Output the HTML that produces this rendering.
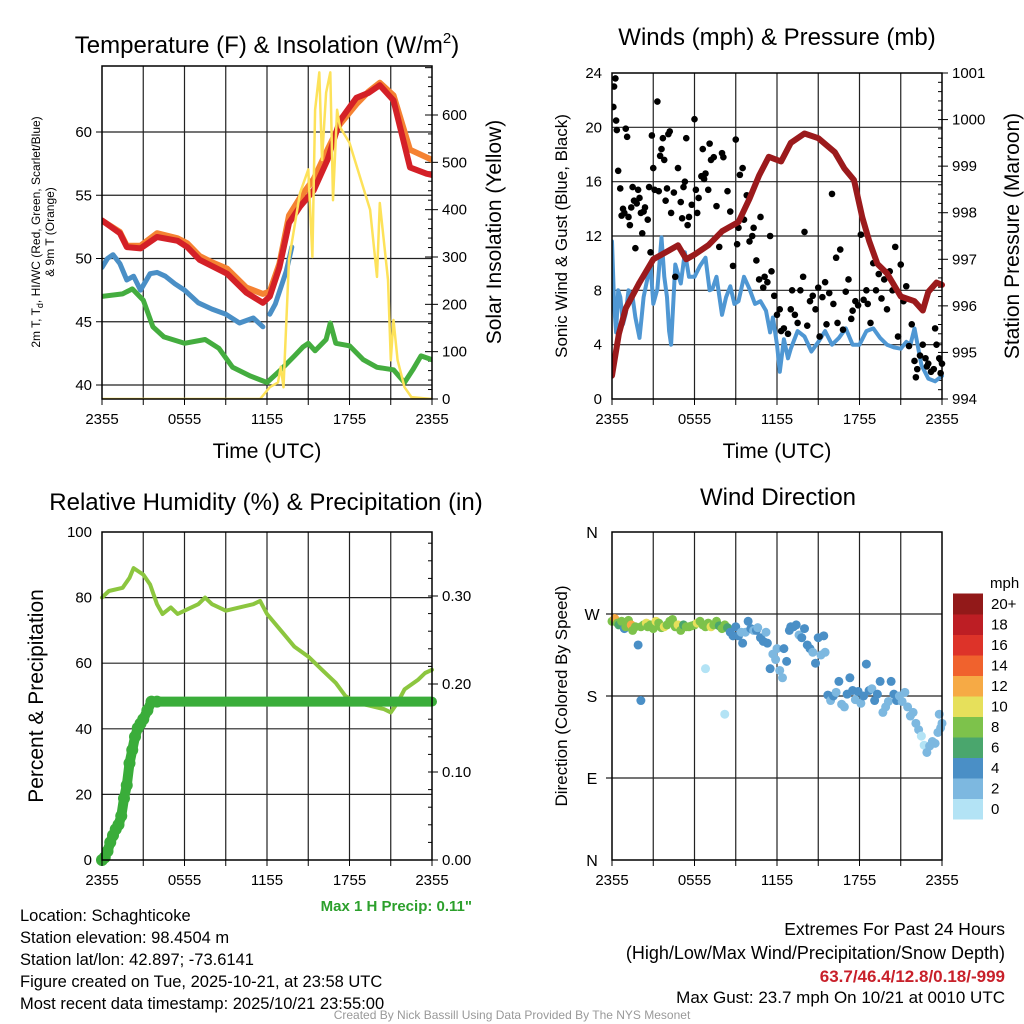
<!DOCTYPE html>
<html><head><meta charset="utf-8"><style>
body{margin:0;background:#fff;}
svg{display:block;font-family:"Liberation Sans",sans-serif;}
</style></head><body>
<svg id="s" width="1024" height="1024" viewBox="0 0 1024 1024">
<rect width="1024" height="1024" fill="#fff"/>
</svg>
<script>
// ---------- DATA (hours since 2355 UTC) ----------
const xTickLabels=["2355","0555","1155","1755","2355"];
const tempH=[0,1.3,1.8,2.8,4,5.5,6.2,7.1,8,9.1,10.5,11.7,12.2,12.9,13.6,14.4,15.4,16.4,17.3,18.5,19.4,20.2,21.2,22.4,23.6,24];
const tempRed=[53.0,52.0,50.9,50.8,51.7,51.4,50.9,49.9,49.4,48.8,47.3,46.5,47.0,49.3,52.8,54.1,55.4,57.8,60.9,62.7,63.1,63.7,62.5,57.2,56.7,56.6];
const tempOrange=[53.0,52.1,51.0,51.0,52.0,51.6,51.2,50.2,49.7,49.2,47.7,47.2,47.4,49.6,53.4,54.8,56.3,58.6,60.6,62.2,63.2,63.9,62.9,58.6,58.0,57.8];
const wcH=[0,0.4,0.8,1.3,1.8,2.3,2.8,3.5,4.0,4.6,5.3,6,7,8,9,10,11,11.7];
const wcBlue=[49.3,50.0,50.3,49.6,48.3,48.6,47.5,48.8,48.9,48.6,48.0,47.5,46.5,46.0,45.6,44.9,45.3,44.6];
const wc2H=[12.2,12.6,13.0,13.4,13.8];
const wc2Blue=[45.6,46.4,47.7,49.0,50.9];
const dewH=[0,1.5,2.2,3,3.7,4.5,6,7.5,8.5,9.5,10.8,12,13,14,14.6,15,15.5,16.3,16.6,17,18,19,20,21.2,22,22.6,23.2,24];
const dewGreen=[47.0,47.2,47.6,46.7,44.6,43.8,43.3,43.6,42.9,41.4,40.7,40.2,41.2,42.3,43.0,43.3,42.7,43.6,44.9,43.3,43.1,42.0,41.4,41.2,40.2,41.2,42.3,42.0];
const solH=[0,11.5,12.2,12.8,13.0,13.2,13.6,14.4,15,15.3,15.5,15.8,16,16.3,16.6,16.8,17.1,17.3,18,19.5,20,20.2,20.8,21,21.2,21.5,22,22.5,24];
const solar=[0,0,25,35,68,25,294,435,485,300,611,690,505,647,690,420,611,575,541,400,258,414,252,82,167,82,25,4,0];
const presH=[0,0.5,1,2,3,4.2,4.8,5.4,6,7,8,9.2,10,10.7,11.4,12.3,13,14,15,16.2,16.9,17.6,18.2,18.7,19.3,20,21,22,22.6,23,23.6,24];
const pressure=[994.5,995.4,995.95,996.5,997.0,997.2,997.3,997.0,997.1,997.3,997.6,997.8,998.3,998.8,999.2,999.1,999.5,999.7,999.6,999.3,998.95,998.7,997.9,997.4,996.9,996.7,996.2,996.1,995.9,996.3,996.5,996.45];
const sonicH=[0,0.15,0.3,0.45,0.6,0.8,1,1.2,1.5,1.7,2,2.15,2.3,2.5,2.8,3,3.3,3.6,3.8,4,4.15,4.3,4.6,5,5.3,5.6,6,6.4,6.8,7.1,7.3,7.6,8,8.3,8.6,8.9,9.2,9.6,10,10.4,10.8,11.2,11.5,11.7,12.0,12.2,12.5,12.8,13,13.5,14,14.5,15,15.5,16,16.5,17,17.5,18,18.5,19,19.5,20,20.5,21,21.4,21.7,22,22.5,23,23.5,24];
const sonic=[11.6,7,4.9,8,7.5,5.5,6.3,8,7.5,6,4.5,6,7.5,8.5,9.9,7,8.1,11.9,9,7.5,5,4.0,9.9,8.5,10.8,9,9.0,9.8,10.4,8,8.1,9,6.2,7.5,8.3,7,7.2,9,8.1,7,7.2,6.5,4.9,6,4.0,2.0,4.4,3,3.7,5,4.6,3.5,4.2,5,4.0,4.5,5.2,4,4.0,5,5.2,4.5,4.0,3.8,3.7,4.2,4.0,5.2,2.5,1.5,1.3,1.7,2,1.0];
const gustH=[0.1,0.15,0.25,0.3,0.35,0.45,0.6,0.7,0.8,0.9,1.0,1.1,1.2,1.3,1.4,1.5,1.6,1.7,1.8,1.9,2.0,2.1,2.2,2.3,2.4,2.6,2.7,2.8,2.9,3.0,3.1,3.3,3.4,3.5,3.6,3.7,3.8,3.9,4.0,4.1,4.2,4.3,4.5,4.6,4.8,5.0,5.1,5.2,5.3,5.4,5.5,5.6,5.8,6.0,6.1,6.2,6.3,6.5,6.6,6.7,6.8,7.0,7.1,7.2,7.4,7.6,7.8,8.0,8.1,8.4,8.6,8.8,9.0,9.1,9.2,9.3,9.5,9.6,9.8,10.0,10.2,10.3,10.5,10.7,10.8,11.0,11.1,11.3,11.5,11.6,11.8,12.0,12.2,12.3,12.5,12.8,13.0,13.1,13.3,13.5,13.7,13.9,14.0,14.2,14.4,14.6,14.8,15.0,15.1,15.3,15.5,15.6,15.8,16.0,16.1,16.3,16.4,16.6,16.8,17.0,17.2,17.4,17.5,17.7,17.9,18.1,18.3,18.5,18.6,18.8,19.0,19.2,19.4,19.6,19.8,20.0,20.2,20.4,20.6,20.8,21.0,21.2,21.4,21.6,21.8,22.0,22.2,22.4,22.6,22.8,23.0,23.2,23.4,23.5,23.6,23.8,24.0,23.9,22.9,22.1];
const gust=[21.5,23,23.6,20.5,19.8,16.8,15.5,13.5,14,13.7,19.9,19.3,13.4,12.8,14.1,15.6,14.6,11.1,14.4,15.4,14.8,13.7,12.2,13.8,14.1,13.2,15.6,10.8,19.4,17.0,15.4,21.9,15.3,17.9,18.4,19.2,17.6,14.6,15.5,19.5,19.7,13.7,15.2,9.0,17.0,14.5,13.3,15.6,16.0,19.2,12.8,13.4,14.3,20.6,15.4,13.7,14.8,16.4,18.4,16.2,16.6,15.4,18.8,17.6,17.8,14.2,11.2,18.1,17.8,15.3,13.8,9.8,19.1,11.4,12.6,16.5,17.0,13.2,15.0,11.6,12.0,12.6,10.2,8.8,13.4,8.2,9.0,8.6,12.0,9.4,7.6,6.2,6.6,5.0,5.2,4.8,6.6,8.0,6.2,5.6,8.0,9.0,12.3,5.4,7.2,7.6,6.6,8.2,4.6,7.5,8.6,5.5,7.8,15.1,7.0,10.4,5.6,11.0,5.1,7.9,8.8,5.9,6.5,7.2,6.9,12.1,7.3,8.0,7.0,5.6,10.0,8.0,9.2,7.4,8.8,6.6,9.4,8.0,11.2,4.6,9.9,7.2,8.3,3.9,5.5,2.8,2.2,3.2,4.0,3.0,2.6,2.0,2.2,5.2,4.0,3.0,2.6,1.9,2.4,1.6];
const rhH=[0,0.5,1.5,2,2.3,3,3.5,4,4.4,5,5.5,6,7,7.5,8,9,10,11,11.5,12,13,14,15,16,17,17.7,18.5,19.5,20.5,21,21.5,22,23,23.5,24];
const rh=[80,82,83,86,89,87,84,78,75,77,75,76,78,80,78,76,77,78,79,75,70,65,62,58,54,50,48,47,46,45,48,52,55,57,58];
const pcpH=[0,0.2,0.4,0.6,0.8,1,1.2,1.4,1.6,1.8,2,2.2,2.4,2.6,2.8,3,3.3,3.6,4,24];
const precip=[0,0.003,0.01,0.02,0.028,0.035,0.04,0.05,0.07,0.085,0.11,0.125,0.14,0.15,0.155,0.16,0.17,0.18,0.18,0.18];
const dirH=[0,0.2,0.4,0.5,0.7,0.9,1.0,1.2,1.4,1.5,1.7,1.9,2.1,2.3,2.5,2.6,2.8,3.0,3.2,3.4,3.6,3.8,4.0,4.2,4.4,4.6,4.8,5.0,5.2,5.4,5.6,5.8,6.0,6.2,6.4,6.6,6.8,7.0,7.2,7.4,7.6,7.8,8.0,8.2,8.4,8.6,8.8,9.0,9.2,9.4,9.5,9.7,9.9,10.1,10.3,10.5,10.6,10.8,11.0,11.2,11.3,11.5,11.7,11.9,12.0,12.2,12.4,12.5,12.7,12.9,13.0,13.2,13.4,13.6,13.8,14.0,14.2,14.4,14.6,14.8,15.0,15.2,15.4,15.5,15.7,15.9,16.1,16.3,16.5,16.7,16.9,17.1,17.3,17.5,17.7,17.9,18.1,18.3,18.5,18.7,18.9,19.1,19.3,19.5,19.7,19.9,20.1,20.3,20.5,20.7,20.9,21.1,21.3,21.5,21.7,21.9,22.1,22.3,22.5,22.7,22.9,23.1,23.3,23.5,23.7,23.9,24.0,23.8,2.1,6.8,8.2];
const dirDeg=[262,265,260,258,262,254,256,263,258,252,256,236,256,258,260,256,258,254,262,260,255,256,258,262,264,256,258,252,258,256,256,257,258,260,262,258,256,260,256,258,262,257,254,258,255,250,246,256,246,250,238,250,262,254,252,252,255,244,240,250,238,210,226,220,232,208,200,232,218,252,256,256,258,247,244,254,236,232,228,216,244,225,246,228,181,175,180,184,196,171,168,182,200,186,176,185,172,180,215,186,188,175,182,196,162,168,174,196,182,175,180,174,184,168,158,162,150,143,136,126,118,125,130,128,140,145,150,160,175,210,160,258,240,250];
const dirSpd=[9,13,9,7,8,4,8,9,13,9,8,4,9,8,10,9,8,8,10,9,9,11,9,8,9,9,10,8,6,8,9,9,8,10,9,8,9,9,11,8,9,7,8,9,7,5,5,5,5,3,5,3,5,5,2,5,2,5,5,3,5,5,3,3,2,2,2,5,5,5,5,5,5,2,5,5,5,5,3,5,5,2,5,2,5,2,5,3,5,2,2,5,5,5,3,5,2,5,5,5,3,5,5,5,3,3,2,5,5,5,2,3,3,2,2,2,3,2,1,1,2,3,3,2,2,3,2,3,5,1,1,7,9,3];
const barLevels=["0","2","4","6","8","10","12","14","16","18","20+"];
const barColors=["#b3e3f5","#7db8e0","#4a8fc6","#4aa66d","#7dc24b","#e6e05b","#f6aa45","#f0622d","#dd3329","#bd1e24","#921919"];

// ---------- helpers ----------
const NS="http://www.w3.org/2000/svg";
const svg=document.getElementById('s');
function mk(tag,attrs,parent){const e=document.createElementNS(NS,tag);for(const k in attrs)e.setAttribute(k,attrs[k]);(parent||svg).appendChild(e);return e;}
function txt(x,y,s,size,anchor,parent,extra){const t=mk('text',Object.assign({x:x,y:y,'font-size':size,'text-anchor':anchor||'middle',fill:'#000'},extra||{}),parent);t.textContent=s;return t;}
function lin(d0,d1,p0,p1){return v=>p0+(v-d0)/(d1-d0)*(p1-p0);}
function poly(xs,ys,sx,sy,color,w,parent){const pts=xs.map((h,i)=>sx(h).toFixed(1)+','+sy(ys[i]).toFixed(1)).join(' ');return mk('polyline',{points:pts,fill:'none',stroke:color,'stroke-width':w,'stroke-linejoin':'round','stroke-linecap':'round'},parent);}
function frame(name){
  const g=mk('g',{});
  
  
  return g;
}
function vgrid(g,x0,y0,x1,y1){
  for(let i=1;i<8;i++){const x=x0+(x1-x0)*i/8;mk('line',{x1:x,y1:y0,x2:x,y2:y1,stroke:'#222','stroke-width':1.2},g);}
}
function xaxis(g,x0,x1,yb){
  const sx=lin(0,24,x0,x1);
  for(let i=0;i<=8;i++){const x=x0+(x1-x0)*i/8;mk('line',{x1:x,y1:yb,x2:x,y2:yb+6,stroke:'#000','stroke-width':1},g);}
  xTickLabels.forEach((l,i)=>{const t=txt(sx(i*6),yb+25,l,15,'middle',g);});
  return sx;
}
function box(g,x0,y0,x1,y1){mk('rect',{x:x0,y:y0,width:x1-x0,height:y1-y0,fill:'none',stroke:'#000','stroke-width':1.5},g);}

// ---------- Panel 1 ----------
(function(){
  const x0=102,x1=432,y0=66,y1=399;
  const g=frame('temperature-panel');
  const sx=lin(0,24,x0,x1), sy=lin(40,60,385,132), ss=lin(0,600,399,115);
  vgrid(g,x0,y0,x1,y1);
  [40,45,50,55,60].forEach(v=>mk('line',{x1:x0,y1:sy(v),x2:x1,y2:sy(v),stroke:'#222','stroke-width':1.2},g));
  [40,45,50,55,60].forEach(v=>{mk('line',{x1:x0-6,y1:sy(v),x2:x0,y2:sy(v),stroke:'#000'},g);const t=txt(x0-10,sy(v)+5,String(v),15,'end',g);});
  for(let v=0;v<=700;v+=20){const y=ss(v);if(y<y0)break;mk('line',{x1:x1-(v%100==0?7:4),y1:y,x2:x1,y2:y,stroke:'#000'},g);}
  for(let v=0;v<=600;v+=100){mk('line',{x1:x1,y1:ss(v),x2:x1+6,y2:ss(v),stroke:'#000'},g);const t=txt(x1+10,ss(v)+5,String(v),15,'start',g);}
  const cp=mk('clipPath',{id:'c1'});mk('rect',{x:x0,y:y0,width:x1-x0,height:y1-y0},cp);
  const sc=mk('g',{'clip-path':'url(#c1)'},g);
  const gl=poly(dewH,dewGreen,sx,sy,'#44ad3f',5,sc);
  const b1=poly(wcH,wcBlue,sx,sy,'#4a8fc6',5,sc);
  const b2=poly(wc2H,wc2Blue,sx,sy,'#4a8fc6',5,sc);
  const o=poly(tempH,tempOrange,sx,sy,'#f58232',6,sc);
  const r=poly(tempH,tempRed,sx,sy,'#d42027',6,sc);
  const y=poly(solH,solar,sx,ss,'#fde25a',2.5,sc);
  box(g,x0,y0,x1,y1);
  xaxis(g,x0,x1,y1);
  const t1=txt(267,53,'',24,'middle',g);
  t1.innerHTML='Temperature (F) &amp; Insolation (W/m<tspan font-size="15" dy="-10">2</tspan><tspan dy="10">)</tspan>';
  
  const xl=txt(267,458,'Time (UTC)',21,'middle',g);
  const yl1=txt(0,0,'',12,'middle',g,{transform:'translate(40,232) rotate(-90)'});
  yl1.innerHTML='2m T, T<tspan font-size="9" dy="3">d</tspan><tspan dy="-3">, HI/WC (Red, Green, Scarlet/Blue)</tspan>';
  
  const yl2=txt(0,0,'& 9m T (Orange)',12,'middle',g,{transform:'translate(54,232) rotate(-90)'});
  const yr=txt(0,0,'Solar Insolation (Yellow)',21,'middle',g,{transform:'translate(501,232) rotate(-90)'});
})();

// ---------- Panel 2 ----------
(function(){
  const x0=612,x1=942,y0=73,y1=399;
  const g=frame('wind-pressure-panel');
  const sx=lin(0,24,x0,x1), sy=lin(0,24,399,73), sp=lin(994,1001,399,73);
  vgrid(g,x0,y0,x1,y1);
  [4,8,12,16,20].forEach(v=>mk('line',{x1:x0,y1:sy(v),x2:x1,y2:sy(v),stroke:'#222','stroke-width':1.2},g));
  [0,4,8,12,16,20,24].forEach(v=>{const t=txt(x0-10,sy(v)+5,String(v),15,'end',g);});
  for(let v=994;v<=1001;v+=0.2){const y=sp(v);mk('line',{x1:x1-4,y1:y,x2:x1,y2:y,stroke:'#000'},g);}
  for(let v=994;v<=1001;v++){mk('line',{x1:x1,y1:sp(v),x2:x1+6,y2:sp(v),stroke:'#000'},g);const t=txt(x1+10,sp(v)+5,String(v),15,'start',g);}
  const cp=mk('clipPath',{id:'c2'});mk('rect',{x:x0,y:y0-4,width:x1-x0+4,height:y1-y0+4},cp);
  const sc=mk('g',{'clip-path':'url(#c2)'},g);
  const b=poly(sonicH,sonic,sx,sy,'#4f97d3',4,sc);
  gustH.forEach((h,i)=>{const c=mk('circle',{cx:sx(h),cy:sy(gust[i]),r:3.3,fill:'#000'},sc);
    
    });
  const p=poly(presH,pressure,sx,sp,'#9b1a1c',6,sc);
  box(g,x0,y0,x1,y1);
  xaxis(g,x0,x1,y1);
  const t=txt(777,45,'Winds (mph) & Pressure (mb)',24,'middle',g);
  const xl=txt(777,458,'Time (UTC)',21,'middle',g);
  const yl=txt(0,0,'Sonic Wind & Gust (Blue, Black)',17,'middle',g,{transform:'translate(567,236) rotate(-90)'});
  const yr=txt(0,0,'Station Pressure (Maroon)',21,'middle',g,{transform:'translate(1019,236) rotate(-90)'});
})();

// ---------- Panel 3 ----------
(function(){
  const x0=102,x1=432,y0=532,y1=860;
  const g=frame('humidity-panel');
  const sx=lin(0,24,x0,x1), sy=lin(0,100,860,532), sp=lin(0,0.3,860,596);
  vgrid(g,x0,y0,x1,y1);
  [20,40,60,80].forEach(v=>mk('line',{x1:x0,y1:sy(v),x2:x1,y2:sy(v),stroke:'#222','stroke-width':1.2},g));
  [0,20,40,60,80,100].forEach(v=>{const t=txt(x0-10,sy(v)+5,String(v),15,'end',g);});
  for(let v=0;v<=0.37;v+=0.02){mk('line',{x1:x1-4,y1:sp(v),x2:x1,y2:sp(v),stroke:'#000'},g);}
  [0,0.1,0.2,0.3].forEach(v=>{mk('line',{x1:x1,y1:sp(v),x2:x1+6,y2:sp(v),stroke:'#000'},g);const t=txt(x1+10,sp(v)+5,v.toFixed(2),15,'start',g);});
  const cp=mk('clipPath',{id:'c3'});mk('rect',{x:x0-6,y:y0,width:x1-x0+12,height:y1-y0+6},cp);
  const sc=mk('g',{'clip-path':'url(#c3)'},g);
  const r=poly(rhH,rh,sx,sy,'#8cc63f',4,sc);
  const p=poly(pcpH,precip,sx,sp,'#3aad3a',10,sc);
  pcpH.forEach((h,i)=>{if(h<24){const c=mk('circle',{cx:sx(h),cy:sp(precip[i]),r:6,fill:'#3aad3a'},sc);
    
    }});
  box(g,x0,y0,x1,y1);
  xaxis(g,x0,x1,y1);
  const t=txt(266,510,'Relative Humidity (%) & Precipitation (in)',24,'middle',g);
  const yl=txt(0,0,'Percent & Precipitation',21,'middle',g,{transform:'translate(43,696) rotate(-90)'});
  const m=txt(472,911,'Max 1 H Precip: 0.11"',15,'end',g,{fill:'#2ca02c','font-weight':'bold'});
})();

// ---------- Panel 4 ----------
(function(){
  const x0=612,x1=942,y0=532,y1=860;
  const g=frame('wind-direction-panel');
  const sx=lin(0,24,x0,x1), sy=lin(0,360,860,532);
  vgrid(g,x0,y0,x1,y1);
  [90,180,270].forEach(v=>mk('line',{x1:x0-6,y1:sy(v),x2:x1,y2:sy(v),stroke:'#222','stroke-width':1.2},g));
  ['N','E','S','W','N'].forEach((l,i)=>{const t=txt(x0-20,sy(i*90)+6,l,16,'middle',g);});
  dirH.forEach((h,i)=>{const ci=Math.min(10,Math.floor(dirSpd[i]/2));const c=mk('circle',{cx:sx(h),cy:sy(dirDeg[i]),r:4.5,fill:barColors[ci]},g);
    
    });
  box(g,x0,y0,x1,y1);
  xaxis(g,x0,x1,y1);
  const t=txt(778,505,'Wind Direction',24,'middle',g);
  const yl=txt(0,0,'Direction (Colored By Speed)',17,'middle',g,{transform:'translate(567,696) rotate(-90)'});
  const cb=mk('g',{},g);
  const bh=20.5, by=819;
  barColors.forEach((c,i)=>{mk('rect',{x:953,y:by-(i+1)*bh,width:30,height:bh+0.5,fill:c},cb);});
  barLevels.forEach((l,i)=>{const tt=txt(991,by-i*bh-bh/2+5,l,15,'start',cb);});
  const u=txt(990,588,'mph',15,'start',cb);
})();

// ---------- Footer text ----------
const leftLines=["Location: Schaghticoke","Station elevation: 98.4504 m","Station lat/lon: 42.897; -73.6141","Figure created on Tue, 2025-10-21, at 23:58 UTC","Most recent data timestamp: 2025/10/21 23:55:00"];
leftLines.forEach((l,i)=>{const t=txt(20,921+i*22,l,16.5,'start');});
const r1=txt(1005,935,'Extremes For Past 24 Hours',17.5,'end');
const r2=txt(1005,959,'(High/Low/Max Wind/Precipitation/Snow Depth)',18,'end');
const r3=txt(1005,982,'63.7/46.4/12.8/0.18/-999',17,'end',null,{fill:'#c8202a','font-weight':'bold'});
const r4=txt(1005,1003,'Max Gust: 23.7 mph On 10/21 at 0010 UTC',17,'end');
const cr=txt(512,1019,'Created By Nick Bassill Using Data Provided By The NYS Mesonet',12,'middle',null,{fill:'#999'});
</script>
</body></html>
